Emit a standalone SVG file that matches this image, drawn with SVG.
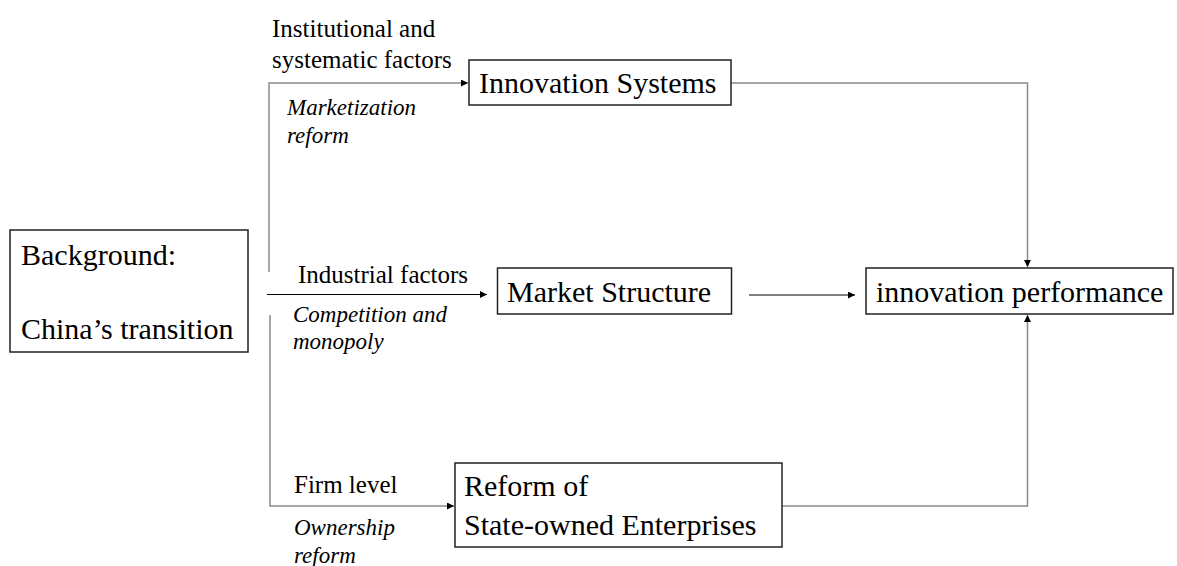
<svg xmlns="http://www.w3.org/2000/svg" width="1177" height="566" viewBox="0 0 1177 566">
<style>
.box{fill:#fff;stroke:#222;stroke-width:1.5}
.nt{font-family:'Liberation Serif','Times New Roman',serif;font-size:30px;fill:#000}
.lb{font-family:'Liberation Serif','Times New Roman',serif;font-size:25px;fill:#000}
.it{font-family:'Liberation Serif','Times New Roman',serif;font-size:23px;font-style:italic;fill:#000}
.g{fill:none;stroke:#8a8a8a;stroke-width:1.5}
.k{fill:none;stroke:#000;stroke-width:1}
</style>
<defs>
<marker id="ah" viewBox="0 0 10 10" refX="10" refY="5" markerWidth="7" markerHeight="7" markerUnits="userSpaceOnUse" orient="auto">
<path d="M0,0 L10,5 L0,10 z" fill="#000"/>
</marker>
</defs>
<rect width="1177" height="566" fill="#fff"/>
<g id="connectors">
<path class="g" d="M269,272 V83 H468" marker-end="url(#ah)"/>
<path class="k" d="M267,294.5 H487" marker-end="url(#ah)"/>
<path class="g" d="M270,315 V506 H454" marker-end="url(#ah)"/>
<path class="g" d="M731,83 H1027.5 V267" marker-end="url(#ah)"/>
<path class="k" d="M749,295 H855" marker-end="url(#ah)"/>
<path class="g" d="M782,506 H1027.5 V315" marker-end="url(#ah)"/>
</g>
<g id="labels">
<text class="lb" x="272" y="37">Institutional and</text>
<text class="lb" x="272" y="68">systematic factors</text>
<text class="it" x="287" y="115">Marketization</text>
<text class="it" x="287" y="143">reform</text>
<text class="lb" x="298" y="283">Industrial factors</text>
<text class="it" x="293" y="322">Competition and</text>
<text class="it" x="293" y="349">monopoly</text>
<text class="lb" x="294" y="493">Firm level</text>
<text class="it" x="294" y="535">Ownership</text>
<text class="it" x="294" y="563">reform</text>
</g>
<g id="background">
<rect class="box" x="10" y="230" width="238" height="122"/>
<text class="nt" x="21" y="265">Background:</text>
<text class="nt" x="21" y="339">China&#8217;s transition</text>
</g>
<g id="innovation-systems">
<rect class="box" x="469" y="60" width="262" height="45"/>
<text class="nt" x="479" y="93">Innovation Systems</text>
</g>
<g id="market-structure">
<rect class="box" x="497.5" y="268" width="234" height="46"/>
<text class="nt" x="507" y="302">Market Structure</text>
</g>
<g id="soe-reform">
<rect class="box" x="455" y="463" width="327" height="84"/>
<text class="nt" x="464" y="496">Reform of</text>
<text class="nt" x="464" y="535">State-owned Enterprises</text>
</g>
<g id="innovation-performance">
<rect class="box" x="866" y="268" width="307" height="46"/>
<text class="nt" x="876" y="302">innovation performance</text>
</g>
</svg>
